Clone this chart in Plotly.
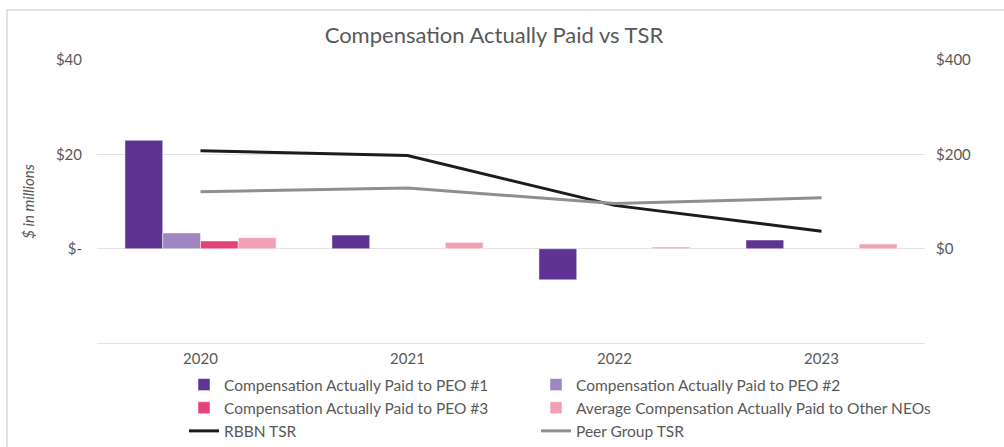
import plotly.graph_objects as go

# Fiscal years on the category axis
years = ["2020", "2021", "2022", "2023"]

# Compensation actually paid ($ millions)
cap_peo1 = [23.0, 2.9, -6.6, 1.85]
cap_peo2 = [3.35, None, None, None]
cap_peo3 = [1.65, None, None, None]
cap_other_neos = [2.35, 1.35, 0.35, 1.0]

# Total shareholder return (value of $100 invested)
rbbn_tsr = [208, 198, 92, 37]
peer_tsr = [121, 129, 96, 108]

# Axis tick labels
left_tickvals = [0, 20, 40]
left_ticktext = ["$-", "$20", "$40"]
right_tickvals = [0, 200, 400]
right_ticktext = ["$0", "$200", "$400"]

FONT = "Lato"
GREY_TEXT = "#595959"
GRID = "#e3e3e3"

fig = go.Figure()

# (name, values, colour, legend column)
bar_series = [
    ("Compensation Actually Paid to PEO #1", cap_peo1, "#5f3393", "legend"),
    ("Compensation Actually Paid to PEO #2", cap_peo2, "#9e86c2", "legend2"),
    ("Compensation Actually Paid to PEO #3", cap_peo3, "#e6427a", "legend"),
    ("Average Compensation Actually Paid to Other NEOs", cap_other_neos, "#f2a1b4", "legend2"),
]
for name, vals, color, leg in bar_series:
    fig.add_trace(go.Bar(
        x=years, y=vals, name=name, legend=leg,
        marker=dict(color=color, line=dict(color="rgba(255,255,255,0.6)", width=0.8)),
        yaxis="y",
    ))

fig.add_trace(go.Scatter(
    x=years, y=rbbn_tsr, name="RBBN TSR", mode="lines", legend="legend",
    line=dict(color="#1c1c1c", width=3), yaxis="y2",
))
fig.add_trace(go.Scatter(
    x=years, y=peer_tsr, name="Peer Group TSR", mode="lines", legend="legend2",
    line=dict(color="#8f8f8f", width=3), yaxis="y2",
))

# Plot-area geometry in pixels, used to place the outer frame and legends in paper units
W, H = 1004, 447
L, R, T, B = 97, 79, 60, 104
pw, ph = W - L - R, H - T - B

def px_x(px):
    return (px - L) / pw

def px_y(py):
    return (H - B - py) / ph

fig.add_shape(
    type="rect", xref="paper", yref="paper",
    x0=px_x(7), x1=px_x(W + 10), y0=px_y(H + 10), y1=px_y(10),
    line=dict(color="#d9d9d9", width=1.5), fillcolor="rgba(0,0,0,0)", layer="below",
)

legend_style = dict(
    orientation="v", xanchor="left", yanchor="top", itemwidth=30,
    font=dict(size=15.5, color=GREY_TEXT, family=FONT),
    bgcolor="rgba(0,0,0,0)", tracegroupgap=0,
)

fig.update_layout(
    width=W, height=H,
    margin=dict(l=L, r=R, t=T, b=B, autoexpand=False),
    paper_bgcolor="white", plot_bgcolor="white",
    font=dict(family=FONT, color=GREY_TEXT, size=15),
    title=dict(
        text="Compensation Actually Paid vs TSR",
        x=0.492, xanchor="center", y=1 - 35 / H, yanchor="middle",
        font=dict(size=22, color=GREY_TEXT, family=FONT),
    ),
    barmode="group", bargap=0.27, bargroupgap=0,
    xaxis=dict(
        type="category", showgrid=False, zeroline=False,
        showline=True, linecolor=GRID, linewidth=1.2,
        ticks="", tickfont=dict(size=15, color=GREY_TEXT), ticklabelstandoff=2,
    ),
    yaxis=dict(
        range=[-20, 40.05], tickvals=left_tickvals, ticktext=left_ticktext,
        showgrid=True, gridcolor=GRID, gridwidth=1.2, zeroline=False, showline=False,
        ticks="", tickfont=dict(size=15, color=GREY_TEXT), ticklabelstandoff=14,
        title=dict(text="<i>$ in millions</i>", font=dict(size=15, color=GREY_TEXT), standoff=17),
    ),
    yaxis2=dict(
        range=[-200, 400.5], tickvals=right_tickvals, ticktext=right_ticktext,
        overlaying="y", side="right", showgrid=False, zeroline=False, showline=False,
        ticks="", tickfont=dict(size=15, color=GREY_TEXT), ticklabelstandoff=10,
    ),
    legend=dict(x=px_x(184), y=px_y(368), **legend_style),
    legend2=dict(x=px_x(536), y=px_y(368), **legend_style),
)

fig.write_html("out.html")
